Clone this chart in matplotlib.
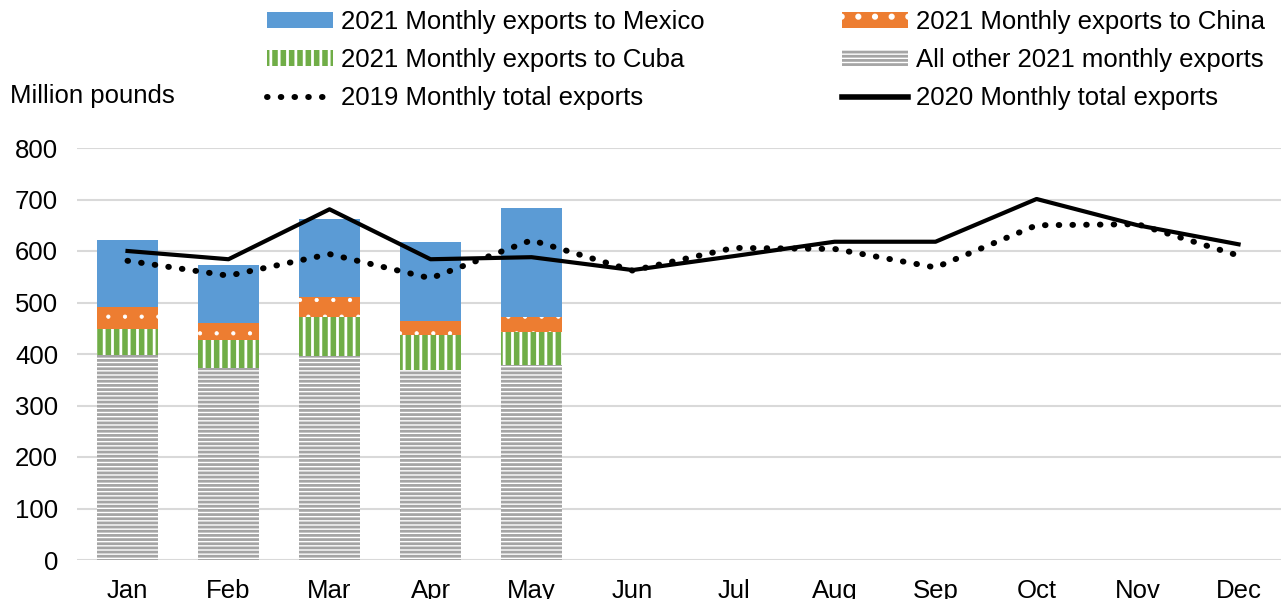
import numpy as np
import matplotlib.pyplot as plt
from matplotlib.patches import Patch
from matplotlib.lines import Line2D

plt.rcParams['font.family'] = ['Liberation Sans', 'DejaVu Sans']
plt.rcParams['hatch.linewidth'] = 2.0

months = ['Jan', 'Feb', 'Mar', 'Apr', 'May', 'Jun', 'Jul', 'Aug', 'Sep', 'Oct', 'Nov', 'Dec']

# 2021 stacked exports (Jan-May), million pounds
other_2021 = [398, 373, 397, 368, 379]
cuba_2021 = [51, 55, 74, 68, 64]
china_2021 = [42, 33, 39, 29, 29]
mexico_2021 = [131, 111, 152, 152, 212]

# monthly totals
total_2019 = [581, 552, 594, 547, 621, 562, 606, 604, 568, 650, 652, 591]
total_2020 = [600, 584, 681, 584, 588, 563, 590, 618, 618, 701, 650, 613]

c_mex = '#5B9BD5'
c_chn = '#ED7D31'
c_cub = '#70AD47'
c_oth = '#A5A5A5'

fs = 18.5

fig = plt.figure(figsize=(12.81, 5.99), dpi=100)
ax = fig.add_axes([77 / 1281, 39 / 599, 1204 / 1281, 412 / 599])

x = np.arange(len(months))
xb = x[:len(other_2021)]
w = 0.6

b1 = np.array(other_2021)
b2 = b1 + np.array(cuba_2021)
b3 = b2 + np.array(china_2021)


def thin_dots(patches):
    # smaller white dots on the China segments
    for p in patches:
        if hasattr(p, 'set_hatch_linewidth'):
            p.set_hatch_linewidth(0.6)


ax.bar(xb, other_2021, w, facecolor='white', edgecolor=c_oth, linewidth=0, hatch='----', zorder=2)
ax.bar(xb, cuba_2021, w, bottom=b1, facecolor=c_cub, edgecolor='white', linewidth=0, hatch='||', zorder=2)
chn = ax.bar(xb, china_2021, w, bottom=b2, facecolor=c_chn, edgecolor='white', linewidth=0, hatch='.', zorder=2)
thin_dots(chn)
ax.bar(xb, mexico_2021, w, bottom=b3, facecolor=c_mex, edgecolor=c_mex, linewidth=0, zorder=2)

ax.plot(x, total_2019, color='black', linewidth=4.3, linestyle=(0, (0.1, 2.2)),
        dash_capstyle='round', zorder=3)
ax.plot(x, total_2020, color='black', linewidth=3, zorder=4)

ax.set_xlim(-0.5, 11.42)
ax.set_ylim(0, 800)
ax.set_yticks(range(0, 801, 100))
ax.set_xticks(x)
ax.set_xticklabels(months)
ax.tick_params(axis='both', length=0, labelsize=fs, colors='black')
ax.tick_params(axis='x', pad=13.5)
ax.tick_params(axis='y', pad=13.5)
ax.grid(axis='y', color='#D9D9D9', linewidth=1.5, zorder=0)
ax.set_axisbelow(True)
for s in ax.spines.values():
    s.set_visible(False)

chn_handle = Patch(facecolor=c_chn, edgecolor='white', linewidth=0, hatch='.')
thin_dots([chn_handle])
handles = [
    Patch(facecolor=c_mex, edgecolor=c_mex, linewidth=0),
    Patch(facecolor=c_cub, edgecolor='white', linewidth=0, hatch='||'),
    Line2D([], [], color='black', linewidth=4.3, linestyle=(0, (0.1, 2.2)), dash_capstyle='round'),
    chn_handle,
    Patch(facecolor='white', edgecolor=c_oth, linewidth=0, hatch='----'),
    Line2D([], [], color='black', linewidth=4),
]
labels = ['2021 Monthly exports to Mexico', '2021 Monthly exports to Cuba', '2019 Monthly total exports',
          '2021 Monthly exports to China', 'All other 2021 monthly exports', '2020 Monthly total exports']
fig.legend(handles, labels, ncol=2, loc='upper left', bbox_to_anchor=(257 / 1281, 1.0),
           frameon=False, fontsize=fs, handlelength=2.57, handleheight=0.55, handletextpad=0.31,
           columnspacing=5.33, labelspacing=0.54, borderaxespad=0)

fig.text(10 / 1281, 1 - 96 / 599, 'Million pounds', fontsize=fs, va='center', ha='left')

fig.savefig('out.png', dpi=100)
